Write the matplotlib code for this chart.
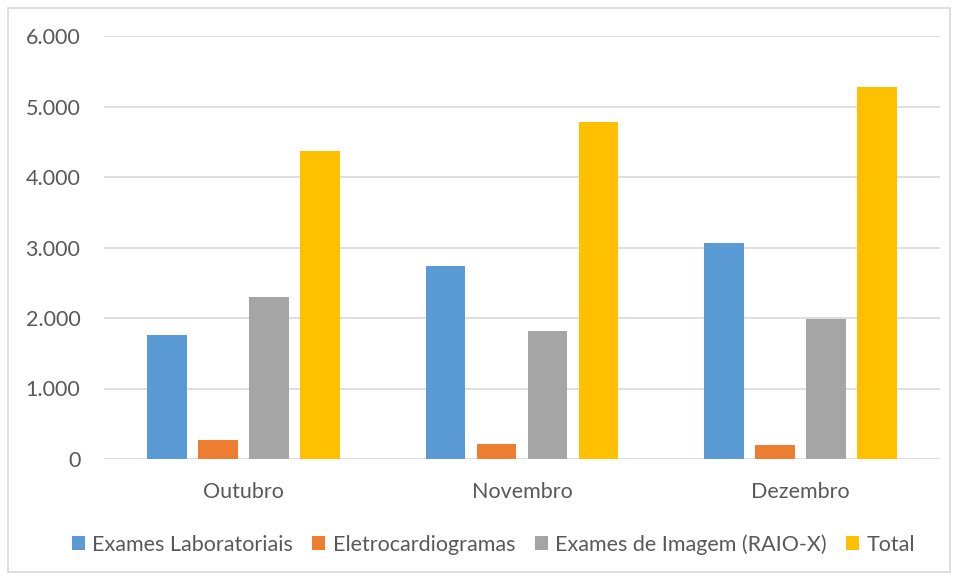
import matplotlib
matplotlib.use("Agg")
import matplotlib.pyplot as plt
from matplotlib.ticker import FuncFormatter
from matplotlib.patches import Rectangle
import numpy as np

months = ["Outubro", "Novembro", "Dezembro"]
series_names = ["Exames Laboratoriais", "Eletrocardiogramas",
                "Exames de Imagem (RAIO-X)", "Total"]
lab = [1765, 2735, 3060]
ecg = [265, 210, 200]
imagem = [2300, 1820, 1990]
total = [4365, 4780, 5278]
colors = ["#5B9BD5", "#ED7D31", "#A5A5A5", "#FFC000"]

plt.rcParams["font.family"] = ["Lato", "DejaVu Sans"]
text_col = "#595959"
grid_col = "#D9D9D9"

fig = plt.figure(figsize=(9.58, 5.79), dpi=100)
ax = fig.add_axes([104 / 958, 1 - 459 / 579, (940 - 104) / 958, (459 - 36) / 579])

x = np.arange(len(months))
width = 0.143
step = 0.183
for i, (vals, name, c) in enumerate(zip([lab, ecg, imagem, total], series_names, colors)):
    ax.bar(x + (i - 1.5) * step, vals, width, color=c, label=name, zorder=3)

ax.set_xlim(-0.5, len(months) - 0.5)
ax.set_ylim(0, 6000)
ax.set_yticks(np.arange(0, 6001, 1000))
ax.yaxis.set_major_formatter(FuncFormatter(lambda v, p: f"{int(v):,}".replace(",", ".")))
ax.set_xticks(x)
ax.set_xticklabels(months)
ax.grid(axis="y", color=grid_col, linewidth=1.2, zorder=0)
for s in ax.spines.values():
    s.set_visible(False)
ax.tick_params(axis="both", length=0, colors=text_col, labelsize=15.5)
ax.tick_params(axis="y", pad=17)
ax.tick_params(axis="x", pad=16.5)

fig.legend(loc="center", bbox_to_anchor=(0.515, 0.06), ncol=4, frameon=False,
           fontsize=15.5, handlelength=0.6, handleheight=0.6, handletextpad=0.35,
           columnspacing=0.9, labelcolor=text_col)

fig.patches.append(Rectangle((8 / 958, 1 - 572 / 579), 942 / 958, 564 / 579,
                             transform=fig.transFigure, fill=False,
                             edgecolor=grid_col, linewidth=1.2))

fig.savefig("out.png", dpi=100)
